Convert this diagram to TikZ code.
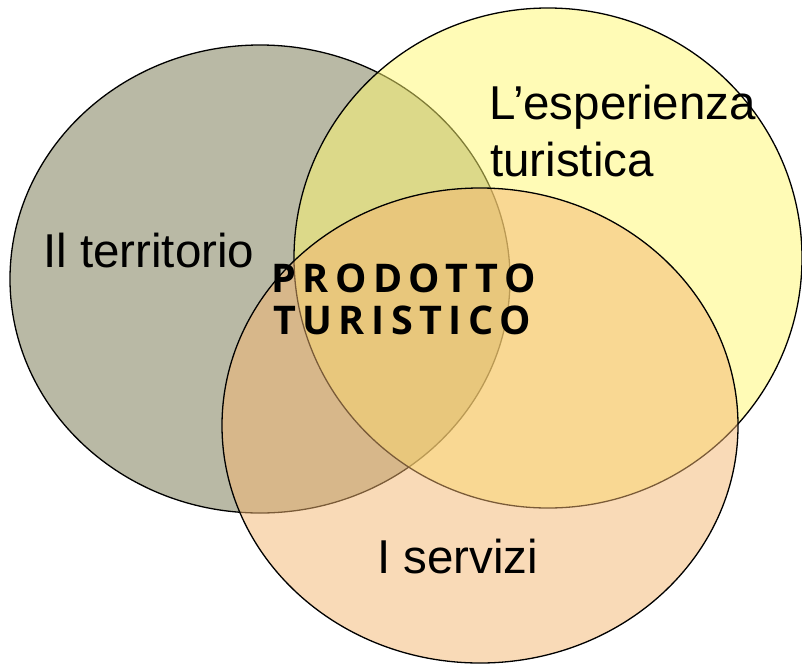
\documentclass[tikz,border=0pt]{standalone}
\usepackage{fontspec}
\setmainfont{Liberation Sans}
\newfontfamily\pfont[LetterSpace=16.5]{Open Sans}
\definecolor{cgray}{RGB}{185,185,165}
\definecolor{cyellow}{RGB}{255,249,111}
\definecolor{cpeach}{RGB}{245,183,113}
\begin{document}
\begin{tikzpicture}[x=1pt,y=-1pt,
  circ/.style={draw=black,line width=1.3pt},
  lbl/.style={inner sep=0pt,anchor=base west,font=\fontsize{47.5}{57}\selectfont},
  prod/.style={inner sep=0pt,anchor=base west,font=\pfont\bfseries\fontsize{39.5}{42}\selectfont}]
\useasboundingbox (0,0) rectangle (802,664);
\fill[white] (0,0) rectangle (802,664);
\draw[circ,fill=cgray] (260,279) ellipse [x radius=250,y radius=234];
\draw[circ,fill=cyellow,fill opacity=0.5] (548,258) ellipse [x radius=254,y radius=250];
\draw[circ,fill=cpeach,fill opacity=0.5] (480,425.5) ellipse [x radius=258,y radius=237.5];
\node[lbl] (terr) at (43,267) {Il territorio};
\node[lbl] (esp1) at (489,119) {L’esperienza};
\node[lbl] (esp2) at (490,176) {turistica};
\node[lbl] (serv) at (377,573) {I servizi};
\node[prod] (prod1) at (271,292) {PRODOTTO};
\node[prod] (prod2) at (273,334) {TURISTICO};
\end{tikzpicture}
\end{document}
